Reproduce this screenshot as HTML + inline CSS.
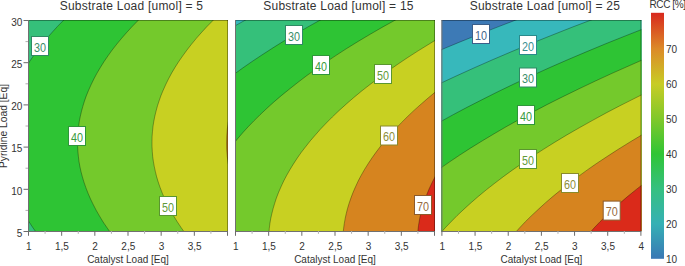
<!DOCTYPE html><html><head><meta charset="utf-8"><style>html,body{margin:0;padding:0;background:#fff;overflow:hidden}svg{display:block}text{font-family:"Liberation Sans",sans-serif}</style></head><body><svg width="685" height="266" viewBox="0 0 685 266"><defs><linearGradient id="cb" x1="0" y1="1" x2="0" y2="0"><stop offset="0.0000" stop-color="#3a78b5"/><stop offset="0.1422" stop-color="#35b0b5"/><stop offset="0.2845" stop-color="#35c080"/><stop offset="0.4267" stop-color="#30c535"/><stop offset="0.5690" stop-color="#80c82a"/><stop offset="0.7112" stop-color="#c8cc25"/><stop offset="0.8535" stop-color="#dc8a28"/><stop offset="1.0000" stop-color="#d8281e"/></linearGradient></defs><clipPath id="c1"><rect x="28.00" y="20.00" width="200.00" height="211.00"/></clipPath>
<g clip-path="url(#c1)"><rect x="28.00" y="20.00" width="200.00" height="211.00" fill="#35c07a"/><path d="M65.2 18.6 229.5 18.5 229.5 233.5 37.0 233.5 31.4 225.6 26.5 217.9 26.5 66.4 30.4 60.2 34.4 54.5 39.2 48.0 43.7 42.2 48.5 36.5 53.6 30.7 58.9 25.0 65.2 18.6Z" fill="#2ec434"/><path d="M139.9 18.6 140.0 18.5 229.5 18.5 229.5 233.5 111.1 233.5 107.5 228.5 104.1 223.4 100.9 218.4 97.9 213.4 95.1 208.3 92.5 203.3 88.3 194.0 86.0 188.2 84.0 182.4 82.3 176.7 81.0 171.7 79.8 165.9 78.9 160.9 78.2 155.1 77.8 150.1 77.6 144.3 77.6 138.6 77.9 132.8 78.4 127.8 79.2 122.0 80.2 117.0 81.5 111.3 82.8 106.2 84.7 100.5 86.8 94.7 89.0 89.3 91.4 83.9 94.3 78.2 97.0 73.1 100.4 67.4 103.5 62.4 107.3 56.8 111.0 51.6 115.4 45.8 119.5 40.8 124.3 35.2 128.9 30.0 134.3 24.3 139.9 18.6Z" fill="#74c92c"/><path d="M214.6 18.8 214.9 18.5 229.5 18.5 229.5 233.5 185.3 233.5 180.2 226.3 176.0 219.8 171.8 212.6 168.3 206.2 164.8 199.0 162.0 192.5 159.6 186.0 157.5 179.6 155.5 172.4 154.1 165.9 153.0 158.7 152.3 152.2 152.0 145.1 152.0 138.6 152.4 132.1 153.1 125.6 154.4 118.4 155.8 112.0 157.6 105.5 159.7 99.0 162.5 91.8 165.3 85.4 168.5 78.9 172.1 72.4 176.4 65.2 180.6 58.8 185.3 52.3 190.2 45.8 196.1 38.6 201.8 32.2 207.8 25.7 214.6 18.8Z" fill="#c8d022"/><path d="M229.5 116.2 229.5 170.0 228.2 163.0 227.3 156.6 226.7 149.4 226.6 142.9 226.8 135.7 227.3 129.2 228.2 122.8 229.5 116.2Z" fill="#d6841f"/><g fill="none" stroke="rgba(0,0,0,0.35)" stroke-width="0.9"><path d="M26.5 66.4 30.0 60.9 34.0 55.0 38.1 49.4 42.8 43.3 47.5 37.6 52.3 32.1 57.7 26.2 65.3 18.5M37.0 233.5 32.6 227.3 26.5 217.9"/><path d="M111.1 233.5 107.0 227.7 103.1 222.0 99.6 216.2 96.3 210.5 93.3 204.7 90.5 199.0 88.0 193.2 85.8 187.5 83.8 181.7 82.2 176.2 81.0 171.7 79.9 166.6 79.0 161.6 78.4 156.6 77.9 151.5 77.6 146.5 77.6 141.5 77.7 136.4 78.0 131.4 78.6 126.4 79.3 121.3 80.3 116.3 81.5 111.2 82.9 106.2 84.4 101.2 86.2 96.0 88.5 90.4 91.1 84.7 93.9 78.9 97.0 73.1 100.4 67.4 104.0 61.6 108.0 55.8 112.1 50.1 116.8 44.1 121.6 38.3 126.3 32.9 131.7 27.0 140.0 18.5"/><path d="M185.3 233.5 181.2 227.7 177.2 221.7 173.8 216.2 170.4 210.3 167.5 204.7 164.8 199.0 162.3 193.2 160.1 187.5 158.1 181.7 156.6 176.7 155.4 171.7 154.3 166.6 153.4 161.6 152.7 156.6 152.3 151.5 152.0 146.5 152.0 141.5 152.1 136.4 152.5 131.4 153.0 126.4 153.8 121.3 154.8 116.2 156.0 111.3 157.5 105.7 159.0 101.2 160.9 95.7 163.1 90.4 165.7 84.6 168.5 78.9 171.6 73.1 175.0 67.4 178.7 61.6 182.7 55.9 186.9 50.1 191.5 44.2 196.2 38.5 201.1 32.9 206.4 27.1 214.9 18.5"/><path d="M229.5 170.0 228.2 163.0 227.3 156.6 226.7 149.4 226.6 142.9 226.8 135.7 227.3 129.2 228.2 122.8 229.5 116.2"/></g></g>
<path d="M28.00 20.5H228.00M227.50 20V231" fill="none" stroke="rgba(0,0,0,0.35)" stroke-width="1"/>
<path d="M28.50 20V232M28.00 231.5H228.00" fill="none" stroke="#707070" stroke-width="1"/>
<clipPath id="c2"><rect x="235.00" y="20.00" width="200.00" height="211.00"/></clipPath>
<g clip-path="url(#c2)"><rect x="235.00" y="20.00" width="200.00" height="211.00" fill="#37b8bb"/><path d="M247.1 19.1 248.2 18.5 436.5 18.5 436.5 233.5 233.5 233.5 233.5 26.7 247.1 19.1Z" fill="#35c07a"/><path d="M321.8 19.2 323.0 18.5 436.5 18.5 436.5 233.5 233.5 233.5 233.5 74.7 242.6 68.1 253.0 60.9 263.8 53.7 274.9 46.6 285.5 40.1 297.6 32.9 310.1 25.7 321.8 19.2Z" fill="#2ec434"/><path d="M397.1 19.0 398.1 18.5 436.5 18.5 436.5 233.5 233.5 233.5 233.5 143.7 239.5 136.4 246.6 128.5 254.1 120.6 262.2 112.7 270.8 104.8 279.9 96.9 289.5 89.0 299.6 81.1 310.2 73.1 321.4 65.2 332.6 57.6 344.2 50.1 356.9 42.2 370.1 34.3 383.8 26.4 397.1 19.0Z" fill="#74c92c"/><path d="M435.8 39.9 436.5 39.5 436.5 233.5 268.8 233.5 269.4 227.0 270.3 221.3 271.5 214.9 273.0 209.1 274.9 202.6 276.9 196.8 279.4 190.4 282.0 184.6 285.1 178.3 288.3 172.4 291.9 166.4 295.9 160.2 300.0 154.1 304.6 147.9 309.2 142.2 314.0 136.4 319.7 130.0 325.2 124.2 331.3 118.0 337.6 112.0 344.2 105.9 351.2 99.8 358.0 94.0 365.1 88.2 373.4 81.9 381.1 76.0 389.7 69.9 398.4 63.8 407.3 57.8 416.9 51.6 435.8 39.9Z" fill="#c8d022"/><path d="M436.5 91.1 436.5 233.5 343.1 233.5 343.6 228.5 344.2 224.2 345.8 215.5 346.9 210.8 348.2 206.2 351.0 197.5 353.0 192.5 354.8 188.2 358.9 179.6 363.7 170.9 369.0 162.3 375.4 153.1 382.1 144.3 390.0 135.0 397.9 126.4 407.1 117.0 416.3 108.4 426.1 99.8 436.5 91.1Z" fill="#d6841f"/><path d="M436.5 174.2 436.5 233.5 417.6 233.5 418.5 225.6 419.7 218.4 421.3 211.2 423.4 204.0 426.2 196.1 429.1 188.9 432.5 181.7 436.5 174.2Z" fill="#da2a1a"/><g fill="none" stroke="rgba(0,0,0,0.35)" stroke-width="0.9"><path d="M233.5 26.7 248.2 18.5"/><path d="M233.5 74.7 242.3 68.3 251.8 61.7 261.6 55.2 272.9 47.9 284.4 40.7 296.6 33.4 309.5 26.0 323.0 18.5"/><path d="M233.5 143.7 237.7 138.6 243.0 132.4 248.4 126.5 253.9 120.9 260.0 114.8 266.8 108.4 274.2 101.7 281.7 95.3 289.9 88.7 298.0 82.3 306.8 75.6 315.7 69.3 325.2 62.7 335.3 55.9 346.4 48.7 358.0 41.5 370.1 34.3 382.9 26.9 398.1 18.5"/><path d="M268.8 233.5 269.3 228.5 269.9 223.4 270.8 218.2 271.9 213.4 273.2 208.3 274.7 203.3 276.3 198.3 278.5 192.5 281.0 186.8 283.7 181.0 286.7 175.3 290.0 169.5 293.5 163.8 297.3 158.0 301.4 152.2 305.8 146.5 310.4 140.7 315.7 134.6 320.4 129.2 326.5 122.8 332.3 117.0 339.1 110.5 346.2 104.1 353.7 97.6 361.8 90.9 370.0 84.5 378.8 77.8 387.6 71.3 397.1 64.7 407.0 58.0 418.2 50.8 436.5 39.5"/><path d="M343.1 233.5 343.6 228.5 344.3 223.4 345.2 218.4 346.3 213.4 347.6 208.3 349.1 203.3 351.0 197.8 353.0 192.5 355.5 186.8 358.2 181.0 361.2 175.3 364.5 169.5 368.1 163.8 372.0 157.9 376.1 152.2 380.4 146.5 385.0 140.7 390.3 134.6 395.2 129.2 401.2 122.9 407.1 117.0 413.9 110.5 421.1 104.1 428.6 97.6 436.5 91.1"/><path d="M417.6 233.5 418.5 225.6 419.7 218.4 421.3 211.2 423.4 204.0 426.2 196.1 429.1 188.9 432.5 181.7 436.5 174.2"/></g></g>
<path d="M235.00 20.5H435.00M434.50 20V231" fill="none" stroke="rgba(0,0,0,0.35)" stroke-width="1"/>
<path d="M235.50 20V232M235.00 231.5H435.00" fill="none" stroke="#707070" stroke-width="1"/>
<clipPath id="c3"><rect x="441.40" y="20.00" width="200.00" height="211.00"/></clipPath>
<g clip-path="url(#c3)"><rect x="441.40" y="20.00" width="200.00" height="211.00" fill="#3d7ab6"/><path d="M518.0 19.2 519.8 18.5 642.9 18.5 642.9 233.5 439.9 233.5 439.9 50.3 457.6 42.9 477.2 35.0 497.3 27.1 518.0 19.2Z" fill="#37b8bb"/><path d="M593.3 19.1 595.0 18.5 642.9 18.5 642.9 233.5 439.9 233.5 439.9 83.6 457.7 75.3 475.2 67.4 493.2 59.5 511.7 51.6 532.2 43.1 552.2 35.0 572.4 27.1 593.3 19.1Z" fill="#35c07a"/><path d="M642.2 29.3 642.9 29.0 642.9 233.5 439.9 233.5 439.9 122.0 462.3 109.8 484.6 98.3 508.1 86.8 532.6 75.3 558.3 63.8 585.1 52.3 613.1 40.8 642.2 29.3Z" fill="#2ec434"/><path d="M642.2 60.0 642.9 59.7 642.9 233.5 439.9 233.5 439.9 168.6 450.0 161.6 459.7 155.1 470.5 148.2 481.2 141.5 492.9 134.5 504.3 127.8 516.6 120.9 529.0 114.1 541.7 107.4 555.2 100.5 568.9 93.7 583.1 86.8 597.4 80.0 612.5 73.1 642.2 60.0Z" fill="#74c92c"/><path d="M642.2 94.5 642.9 94.2 642.9 233.5 440.1 233.5 448.7 224.2 457.2 215.5 466.4 206.9 476.2 198.3 486.6 189.6 497.6 181.0 509.2 172.4 521.5 163.8 534.3 155.1 547.8 146.5 561.9 137.9 576.7 129.2 592.0 120.6 608.0 112.0 624.6 103.3 642.2 94.5Z" fill="#c8d022"/><path d="M642.2 134.7 642.9 134.3 642.9 233.5 514.5 233.5 520.4 227.0 526.6 220.6 532.9 214.4 539.4 208.3 546.5 202.0 553.3 196.1 560.7 190.0 568.5 183.9 576.4 177.9 585.0 171.7 594.0 165.3 602.6 159.4 612.3 153.1 621.6 147.2 632.1 140.7 642.2 134.7Z" fill="#d6841f"/><path d="M642.9 184.3 642.9 233.5 589.1 233.5 594.7 227.3 600.6 221.3 606.9 215.0 613.3 209.1 620.5 202.6 627.2 196.8 635.1 190.4 642.9 184.3Z" fill="#da2a1a"/><g fill="none" stroke="rgba(0,0,0,0.35)" stroke-width="0.9"><path d="M439.9 50.3 458.9 42.4 479.0 34.3 501.0 25.7 519.8 18.5"/><path d="M439.9 83.6 456.2 76.0 473.8 68.0 492.2 59.9 511.2 51.8 530.2 43.9 550.4 35.8 572.4 27.1 595.0 18.5"/><path d="M439.9 122.0 453.5 114.5 467.1 107.3 481.8 99.8 497.7 91.8 514.1 83.9 531.6 75.8 549.2 67.8 567.5 59.8 585.9 52.0 605.6 43.8 625.6 35.8 642.9 29.0"/><path d="M439.9 168.6 449.4 162.0 459.7 155.1 470.8 147.9 482.7 140.6 494.9 133.3 507.1 126.2 520.0 119.0 533.6 111.7 547.8 104.2 562.4 96.9 578.6 89.0 595.4 81.0 613.0 72.9 642.9 59.7"/><path d="M440.1 233.5 445.3 227.7 450.8 222.0 457.2 215.5 464.0 209.1 471.2 202.6 478.7 196.1 486.7 189.5 494.9 183.1 503.7 176.4 512.5 170.0 522.1 163.4 532.1 156.6 543.3 149.4 554.8 142.2 566.9 134.9 579.8 127.5 592.7 120.3 606.2 112.9 619.8 105.8 642.9 94.2"/><path d="M514.5 233.5 520.0 227.4 525.4 221.7 531.7 215.5 538.6 209.1 545.8 202.5 553.3 196.1 561.4 189.5 569.6 183.1 578.4 176.4 587.2 170.0 596.7 163.4 607.0 156.6 618.1 149.4 630.0 142.0 642.9 134.3"/><path d="M589.1 233.5 594.7 227.3 600.1 221.7 606.4 215.5 613.3 209.1 620.5 202.6 628.1 196.1 636.1 189.6 642.9 184.3"/></g></g>
<path d="M441.40 20.5H641.40M640.90 20V231" fill="none" stroke="rgba(0,0,0,0.35)" stroke-width="1"/>
<path d="M441.90 20V232M441.40 231.5H641.40" fill="none" stroke="#707070" stroke-width="1"/><text x="131.50" y="9.80" font-size="12" fill="#333333" text-anchor="middle" letter-spacing="0.23">Substrate Load [umol] = 5</text><text x="338.50" y="9.80" font-size="12" fill="#333333" text-anchor="middle" letter-spacing="0.23">Substrate Load [umol] = 15</text><text x="544.90" y="9.80" font-size="12" fill="#333333" text-anchor="middle" letter-spacing="0.23">Substrate Load [umol] = 25</text><text x="28.80" y="249.80" font-size="10" fill="#333333" text-anchor="middle">1</text><text x="61.97" y="249.80" font-size="10" fill="#333333" text-anchor="middle">1,5</text><text x="95.13" y="249.80" font-size="10" fill="#333333" text-anchor="middle">2</text><text x="128.30" y="249.80" font-size="10" fill="#333333" text-anchor="middle">2,5</text><text x="161.47" y="249.80" font-size="10" fill="#333333" text-anchor="middle">3</text><text x="194.63" y="249.80" font-size="10" fill="#333333" text-anchor="middle">3,5</text><text x="128.00" y="263.00" font-size="10" fill="#333333" text-anchor="middle">Catalyst Load [Eq]</text><text x="235.80" y="249.80" font-size="10" fill="#333333" text-anchor="middle">1</text><text x="268.97" y="249.80" font-size="10" fill="#333333" text-anchor="middle">1,5</text><text x="302.13" y="249.80" font-size="10" fill="#333333" text-anchor="middle">2</text><text x="335.30" y="249.80" font-size="10" fill="#333333" text-anchor="middle">2,5</text><text x="368.47" y="249.80" font-size="10" fill="#333333" text-anchor="middle">3</text><text x="401.63" y="249.80" font-size="10" fill="#333333" text-anchor="middle">3,5</text><text x="335.00" y="263.00" font-size="10" fill="#333333" text-anchor="middle">Catalyst Load [Eq]</text><text x="442.20" y="249.80" font-size="10" fill="#333333" text-anchor="middle">1</text><text x="475.37" y="249.80" font-size="10" fill="#333333" text-anchor="middle">1,5</text><text x="508.53" y="249.80" font-size="10" fill="#333333" text-anchor="middle">2</text><text x="541.70" y="249.80" font-size="10" fill="#333333" text-anchor="middle">2,5</text><text x="574.87" y="249.80" font-size="10" fill="#333333" text-anchor="middle">3</text><text x="608.03" y="249.80" font-size="10" fill="#333333" text-anchor="middle">3,5</text><text x="641.20" y="249.80" font-size="10" fill="#333333" text-anchor="middle">4</text><text x="541.40" y="263.00" font-size="10" fill="#333333" text-anchor="middle">Catalyst Load [Eq]</text><text x="22.30" y="236.70" font-size="10" fill="#333333" text-anchor="end">5</text><text x="22.30" y="194.50" font-size="10" fill="#333333" text-anchor="end">10</text><text x="22.30" y="152.30" font-size="10" fill="#333333" text-anchor="end">15</text><text x="22.30" y="110.10" font-size="10" fill="#333333" text-anchor="end">20</text><text x="22.30" y="67.90" font-size="10" fill="#333333" text-anchor="end">25</text><text x="22.30" y="25.70" font-size="10" fill="#333333" text-anchor="end">30</text><line x1="28.50" y1="231.0" x2="28.50" y2="235.8" stroke="#6b6b6b" stroke-width="1"/><line x1="45.08" y1="231.0" x2="45.08" y2="233.8" stroke="#b0b0b0" stroke-width="1"/><line x1="61.67" y1="231.0" x2="61.67" y2="235.8" stroke="#6b6b6b" stroke-width="1"/><line x1="78.25" y1="231.0" x2="78.25" y2="233.8" stroke="#b0b0b0" stroke-width="1"/><line x1="94.83" y1="231.0" x2="94.83" y2="235.8" stroke="#6b6b6b" stroke-width="1"/><line x1="111.42" y1="231.0" x2="111.42" y2="233.8" stroke="#b0b0b0" stroke-width="1"/><line x1="128.00" y1="231.0" x2="128.00" y2="235.8" stroke="#6b6b6b" stroke-width="1"/><line x1="144.58" y1="231.0" x2="144.58" y2="233.8" stroke="#b0b0b0" stroke-width="1"/><line x1="161.17" y1="231.0" x2="161.17" y2="235.8" stroke="#6b6b6b" stroke-width="1"/><line x1="177.75" y1="231.0" x2="177.75" y2="233.8" stroke="#b0b0b0" stroke-width="1"/><line x1="194.33" y1="231.0" x2="194.33" y2="235.8" stroke="#6b6b6b" stroke-width="1"/><line x1="210.92" y1="231.0" x2="210.92" y2="233.8" stroke="#b0b0b0" stroke-width="1"/><line x1="227.50" y1="231.0" x2="227.50" y2="235.8" stroke="#6b6b6b" stroke-width="1"/><line x1="235.50" y1="231.0" x2="235.50" y2="235.8" stroke="#6b6b6b" stroke-width="1"/><line x1="252.08" y1="231.0" x2="252.08" y2="233.8" stroke="#b0b0b0" stroke-width="1"/><line x1="268.67" y1="231.0" x2="268.67" y2="235.8" stroke="#6b6b6b" stroke-width="1"/><line x1="285.25" y1="231.0" x2="285.25" y2="233.8" stroke="#b0b0b0" stroke-width="1"/><line x1="301.83" y1="231.0" x2="301.83" y2="235.8" stroke="#6b6b6b" stroke-width="1"/><line x1="318.42" y1="231.0" x2="318.42" y2="233.8" stroke="#b0b0b0" stroke-width="1"/><line x1="335.00" y1="231.0" x2="335.00" y2="235.8" stroke="#6b6b6b" stroke-width="1"/><line x1="351.58" y1="231.0" x2="351.58" y2="233.8" stroke="#b0b0b0" stroke-width="1"/><line x1="368.17" y1="231.0" x2="368.17" y2="235.8" stroke="#6b6b6b" stroke-width="1"/><line x1="384.75" y1="231.0" x2="384.75" y2="233.8" stroke="#b0b0b0" stroke-width="1"/><line x1="401.33" y1="231.0" x2="401.33" y2="235.8" stroke="#6b6b6b" stroke-width="1"/><line x1="417.92" y1="231.0" x2="417.92" y2="233.8" stroke="#b0b0b0" stroke-width="1"/><line x1="434.50" y1="231.0" x2="434.50" y2="235.8" stroke="#6b6b6b" stroke-width="1"/><line x1="441.90" y1="231.0" x2="441.90" y2="235.8" stroke="#6b6b6b" stroke-width="1"/><line x1="458.48" y1="231.0" x2="458.48" y2="233.8" stroke="#b0b0b0" stroke-width="1"/><line x1="475.07" y1="231.0" x2="475.07" y2="235.8" stroke="#6b6b6b" stroke-width="1"/><line x1="491.65" y1="231.0" x2="491.65" y2="233.8" stroke="#b0b0b0" stroke-width="1"/><line x1="508.23" y1="231.0" x2="508.23" y2="235.8" stroke="#6b6b6b" stroke-width="1"/><line x1="524.82" y1="231.0" x2="524.82" y2="233.8" stroke="#b0b0b0" stroke-width="1"/><line x1="541.40" y1="231.0" x2="541.40" y2="235.8" stroke="#6b6b6b" stroke-width="1"/><line x1="557.98" y1="231.0" x2="557.98" y2="233.8" stroke="#b0b0b0" stroke-width="1"/><line x1="574.57" y1="231.0" x2="574.57" y2="235.8" stroke="#6b6b6b" stroke-width="1"/><line x1="591.15" y1="231.0" x2="591.15" y2="233.8" stroke="#b0b0b0" stroke-width="1"/><line x1="607.73" y1="231.0" x2="607.73" y2="235.8" stroke="#6b6b6b" stroke-width="1"/><line x1="624.32" y1="231.0" x2="624.32" y2="233.8" stroke="#b0b0b0" stroke-width="1"/><line x1="640.90" y1="231.0" x2="640.90" y2="235.8" stroke="#6b6b6b" stroke-width="1"/><line x1="23.5" y1="231.5" x2="28.0" y2="231.5" stroke="#6b6b6b" stroke-width="1"/><line x1="25.5" y1="210.4" x2="28.0" y2="210.4" stroke="#b0b0b0" stroke-width="1"/><line x1="23.5" y1="189.3" x2="28.0" y2="189.3" stroke="#6b6b6b" stroke-width="1"/><line x1="25.5" y1="168.2" x2="28.0" y2="168.2" stroke="#b0b0b0" stroke-width="1"/><line x1="23.5" y1="147.1" x2="28.0" y2="147.1" stroke="#6b6b6b" stroke-width="1"/><line x1="25.5" y1="126.0" x2="28.0" y2="126.0" stroke="#b0b0b0" stroke-width="1"/><line x1="23.5" y1="104.9" x2="28.0" y2="104.9" stroke="#6b6b6b" stroke-width="1"/><line x1="25.5" y1="83.8" x2="28.0" y2="83.8" stroke="#b0b0b0" stroke-width="1"/><line x1="23.5" y1="62.7" x2="28.0" y2="62.7" stroke="#6b6b6b" stroke-width="1"/><line x1="25.5" y1="41.6" x2="28.0" y2="41.6" stroke="#b0b0b0" stroke-width="1"/><line x1="23.5" y1="20.5" x2="28.0" y2="20.5" stroke="#6b6b6b" stroke-width="1"/><text transform="translate(7.40,126.00) rotate(-90)" font-size="10.3" fill="#333333" text-anchor="middle">Pyridine Load [Eq]</text><rect x="31.50" y="36.50" width="17.00" height="19.00" fill="#fff" stroke="#2f8a64" stroke-width="1"/><text transform="translate(40.00,51.70) scale(0.9,1)" font-size="12" fill="#388c68" text-anchor="middle">30</text><rect x="68.50" y="126.50" width="17.00" height="19.00" fill="#fff" stroke="#2f963a" stroke-width="1"/><text transform="translate(77.00,141.70) scale(0.9,1)" font-size="12" fill="#389a40" text-anchor="middle">40</text><rect x="159.50" y="196.50" width="17.00" height="19.00" fill="#fff" stroke="#5a962f" stroke-width="1"/><text transform="translate(168.00,211.70) scale(0.9,1)" font-size="12" fill="#629a38" text-anchor="middle">50</text><rect x="285.50" y="25.50" width="17.00" height="19.00" fill="#fff" stroke="#2f8a64" stroke-width="1"/><text transform="translate(294.00,40.70) scale(0.9,1)" font-size="12" fill="#388c68" text-anchor="middle">30</text><rect x="312.50" y="55.50" width="17.00" height="19.00" fill="#fff" stroke="#2f963a" stroke-width="1"/><text transform="translate(321.00,70.70) scale(0.9,1)" font-size="12" fill="#389a40" text-anchor="middle">40</text><rect x="374.50" y="64.50" width="17.00" height="19.00" fill="#fff" stroke="#5a962f" stroke-width="1"/><text transform="translate(383.00,79.70) scale(0.9,1)" font-size="12" fill="#629a38" text-anchor="middle">50</text><rect x="380.50" y="126.00" width="17.00" height="19.00" fill="#fff" stroke="#8a8a2a" stroke-width="1"/><text transform="translate(389.00,141.20) scale(0.9,1)" font-size="12" fill="#8e8e3a" text-anchor="middle">60</text><rect x="414.50" y="195.50" width="17.00" height="19.00" fill="#fff" stroke="#8c5a2c" stroke-width="1"/><text transform="translate(423.00,210.70) scale(0.9,1)" font-size="12" fill="#966a40" text-anchor="middle">70</text><rect x="472.50" y="24.50" width="17.00" height="19.00" fill="#fff" stroke="#3b5f8a" stroke-width="1"/><text transform="translate(481.00,39.70) scale(0.9,1)" font-size="12" fill="#44648c" text-anchor="middle">10</text><rect x="519.50" y="35.50" width="17.00" height="19.00" fill="#fff" stroke="#2a8a8c" stroke-width="1"/><text transform="translate(528.00,50.70) scale(0.9,1)" font-size="12" fill="#388e90" text-anchor="middle">20</text><rect x="519.50" y="68.00" width="17.00" height="19.00" fill="#fff" stroke="#2f8a64" stroke-width="1"/><text transform="translate(528.00,83.20) scale(0.9,1)" font-size="12" fill="#388c68" text-anchor="middle">30</text><rect x="517.50" y="105.50" width="17.00" height="19.00" fill="#fff" stroke="#2f963a" stroke-width="1"/><text transform="translate(526.00,120.70) scale(0.9,1)" font-size="12" fill="#389a40" text-anchor="middle">40</text><rect x="519.50" y="149.50" width="17.00" height="19.00" fill="#fff" stroke="#5a962f" stroke-width="1"/><text transform="translate(528.00,164.70) scale(0.9,1)" font-size="12" fill="#629a38" text-anchor="middle">50</text><rect x="561.50" y="173.50" width="17.00" height="19.00" fill="#fff" stroke="#8a8a2a" stroke-width="1"/><text transform="translate(570.00,188.70) scale(0.9,1)" font-size="12" fill="#8e8e3a" text-anchor="middle">60</text><rect x="603.20" y="201.10" width="17.00" height="19.00" fill="#fff" stroke="#8c5a2c" stroke-width="1"/><text transform="translate(611.70,216.30) scale(0.9,1)" font-size="12" fill="#966a40" text-anchor="middle">70</text><rect x="651.00" y="12.80" width="13.00" height="246.00" fill="url(#cb)"/><text x="666.00" y="263.10" font-size="10" fill="#333333">10</text><text x="666.00" y="228.03" font-size="10" fill="#333333">20</text><text x="666.00" y="192.96" font-size="10" fill="#333333">30</text><text x="666.00" y="157.89" font-size="10" fill="#333333">40</text><text x="666.00" y="122.82" font-size="10" fill="#333333">50</text><text x="666.00" y="87.75" font-size="10" fill="#333333">60</text><text x="666.00" y="52.68" font-size="10" fill="#333333">70</text><text x="649.50" y="7.90" font-size="10" fill="#333333" letter-spacing="-0.4">RCC [%]</text></svg></body></html>
